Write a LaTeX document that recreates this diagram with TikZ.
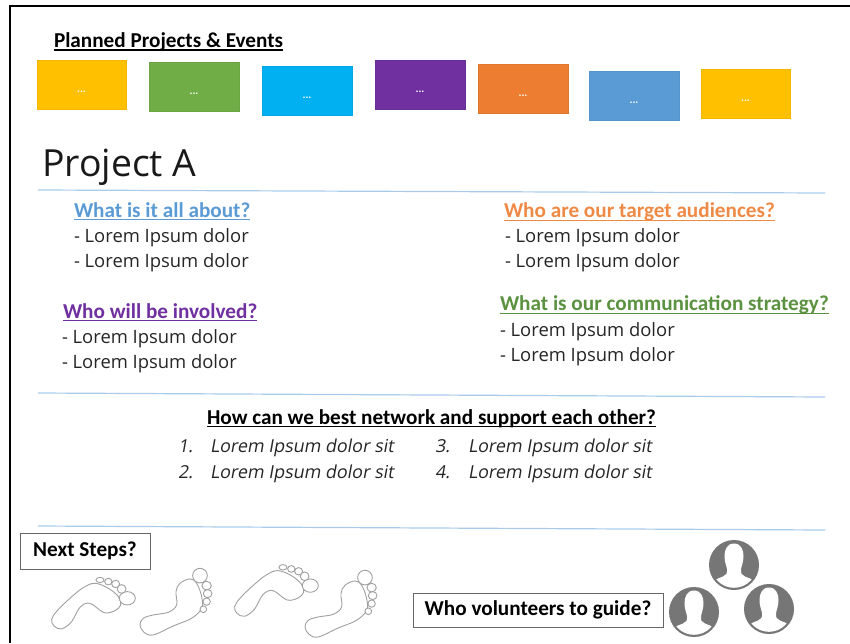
\documentclass[tikz,border=0pt]{standalone}
\usepackage{fontspec}
\setmainfont{Open Sans}
\newfontfamily\calfont{Carlito}
\newfontfamily\slantfont[FakeSlant=0.18]{Open Sans}
\definecolor{cyellow}{HTML}{FFC000}
\definecolor{cgreen}{HTML}{70AD47}
\definecolor{ccyan}{HTML}{00B0F0}
\definecolor{cpurple}{HTML}{7030A0}
\definecolor{corange}{HTML}{ED7D31}
\definecolor{cblue}{HTML}{5B9BD5}
\definecolor{tgreen}{HTML}{5B9240}
\definecolor{rulecol}{HTML}{A9CBEA}
\definecolor{icon}{HTML}{767676}
\definecolor{footline}{HTML}{A0A0A0}
\newcommand\myul[1]{\setbox0\hbox{#1}\rlap{\rule[-3.4pt]{\wd0}{1.4pt}}\box0}
\tikzset{
  card/.style={draw=#1!95!black,line width=0.4pt,fill=#1,minimum width=89.5pt,minimum height=49pt,inner sep=0pt,text=white,
     font=\calfont\bfseries\fontsize{11}{11}\selectfont,text height=15pt,text depth=0pt},
  txt/.style={anchor=base west,inner sep=0pt,outer sep=0pt},
  head/.style={txt,font=\calfont\bfseries\fontsize{21.2}{22}\selectfont},
  body/.style={txt,font=\fontsize{18.4}{20}\selectfont,text=black!85},
  item/.style={txt,font=\slantfont\fontsize{17.9}{20}\selectfont,text=black!85},
  askbox/.style={draw=black!60,line width=1pt,fill=white,inner sep=0pt,font=\calfont\bfseries\fontsize{21.2}{22}\selectfont},
  divider/.style={draw=rulecol,line width=1.2pt},
  footp/.style={draw=footline,line width=0.9pt,fill=white},
  footpa/.pic={
    \draw[footp] plot[smooth cycle,tension=0.6] coordinates {(155,298)(172,272)(210,235)(250,203)(285,190)(325,205)(355,230)(362,255)(345,272)(312,278)(270,250)(240,262)(215,305)(185,327)(162,318)};
    \draw[footp] (382,235) ellipse (24 and 20);
    \draw[footp] (365,207) ellipse (13 and 13);
    \draw[footp] (347,192) ellipse (12 and 11);
    \draw[footp] (325,185) ellipse (11 and 10);
    \draw[footp] (300,180) ellipse (12 and 8);
  },
  footpb/.pic={
    \draw[footp] plot[smooth cycle,tension=0.6] coordinates {(420,315)(430,295)(460,285)(505,277)(530,255)(528,215)(540,190)(570,177)(590,190)(605,230)(605,265)(575,295)(520,318)(460,345)(432,337)};
    \draw[footp] (600,167) ellipse (22 and 22);
    \draw[footp] (620,197) ellipse (14 and 13);
    \draw[footp] (623,221) ellipse (13 and 12);
    \draw[footp] (620,245) ellipse (11 and 11);
    \draw[footp] (610,268) ellipse (10 and 10);
  },
  person/.pic={
    \fill[icon] (0,0) circle (25);
    \begin{scope}
      \clip (0,0) circle (22.8);
      \fill[white] (0,-21.5) .. controls (-7,-21.5) and (-9.5,-15) .. (-9.5,-9)
        .. controls (-9.5,-3) and (-7.5,1) .. (-7,4)
        .. controls (-6.5,9) and (-8,10) .. (-11,11.5)
        .. controls (-14,13) and (-18,13.5) .. (-21,17)
        -- (-21,30) -- (21,30) -- (21,17)
        .. controls (18,13.5) and (14,13) .. (11,11.5)
        .. controls (8,10) and (6.5,9) .. (7,4)
        .. controls (7.5,1) and (9.5,-3) .. (9.5,-9)
        .. controls (9.5,-15) and (7,-21.5) .. (0,-21.5) -- cycle;
    \end{scope}
  }
}
\begin{document}
\begin{tikzpicture}[x=1pt,y=-1pt]
\useasboundingbox (0,0) rectangle (850,643);
\fill[white] (0,0) rectangle (850,643);
\coordinate (fbl) at (10,643);
\coordinate (ftl) at (10,6);
\coordinate (ftr) at (850,6);
\draw[black,line width=1.8pt] (fbl) -- (ftl) -- (ftr);

\node[head] (planned) at (54,47.3) {\myul{Planned Projects \& Events}};
\node[card=cyellow] (c1) at (81.5,85) {...};
\node[card=cgreen]  (c2) at (194,86.5) {...};
\node[card=ccyan]   (c3) at (307,90.5) {...};
\node[card=cpurple] (c4) at (420,84.5) {...};
\node[card=corange] (c5) at (523,89) {...};
\node[card=cblue]   (c6) at (634,96) {...};
\node[card=cyellow] (c7) at (745.5,93.5) {...};

\node[txt,font=\fontsize{37.4}{40}\selectfont,text=black!90] (title) at (42,176) {Project A};

\coordinate (r1a) at (38,190); \coordinate (r1b) at (825,193);
\coordinate (r2a) at (38,393); \coordinate (r2b) at (825,397);
\coordinate (r3a) at (38,526); \coordinate (r3b) at (825,530);
\draw[divider] (r1a) -- (r1b);
\draw[divider] (r2a) -- (r2b);
\draw[divider] (r3a) -- (r3b);

\node[head,text=cblue] (q1) at (74,217) {\myul{What is it all about?}};
\node[body] (q1a) at (74,242.6) {- Lorem Ipsum dolor};
\node[body] (q1b) at (74,267.6) {- Lorem Ipsum dolor};

\node[head,text=cpurple] (q2) at (63,318) {\myul{Who will be involved?}};
\node[body] (q2a) at (62,343.6) {- Lorem Ipsum dolor};
\node[body] (q2b) at (62,368.6) {- Lorem Ipsum dolor};

\node[head,text=corange!90!white] (q3) at (504,217.5) {\myul{Who are our target audiences?}};
\node[body] (q3a) at (505,242.6) {- Lorem Ipsum dolor};
\node[body] (q3b) at (505,267.6) {- Lorem Ipsum dolor};

\node[head,text=tgreen] (q4) at (500,310.5) {\myul{What is our communication strategy?}};
\node[body] (q4a) at (500,336.6) {- Lorem Ipsum dolor};
\node[body] (q4b) at (500,361.6) {- Lorem Ipsum dolor};

\node[head] (q5) at (207,424) {\myul{How can we best network and support each other?}};
\node[item] (n1) at (178,452.6) {1.};
\node[item] (l1) at (210,452.6) {Lorem Ipsum dolor sit};
\node[item] (n2) at (178,478.6) {2.};
\node[item] (l2) at (210,478.6) {Lorem Ipsum dolor sit};
\node[item] (n3) at (435,452.6) {3.};
\node[item] (l3) at (468,452.6) {Lorem Ipsum dolor sit};
\node[item] (n4) at (435,478.6) {4.};
\node[item] (l4) at (468,478.6) {Lorem Ipsum dolor sit};

\node[askbox,minimum width=130pt,minimum height=36pt] (next) at (85,551) {Next Steps?};
\node[askbox,minimum width=250pt,minimum height=34pt] (who) at (538,610) {Who volunteers to guide?};

\begin{scope}[x=0.3333pt,y=-0.3333pt]
\pic (f1) at (0,1560) {footpa};
\pic (f2) at (0,1560) {footpb};
\pic (f3) at (549,1522) {footpa};
\pic (f4) at (495,1566) {footpb};
\end{scope}

\pic (p1) at (734,565) {person};
\pic (p2) at (694,612) {person};
\pic (p3) at (769,609) {person};
\end{tikzpicture}
\end{document}
